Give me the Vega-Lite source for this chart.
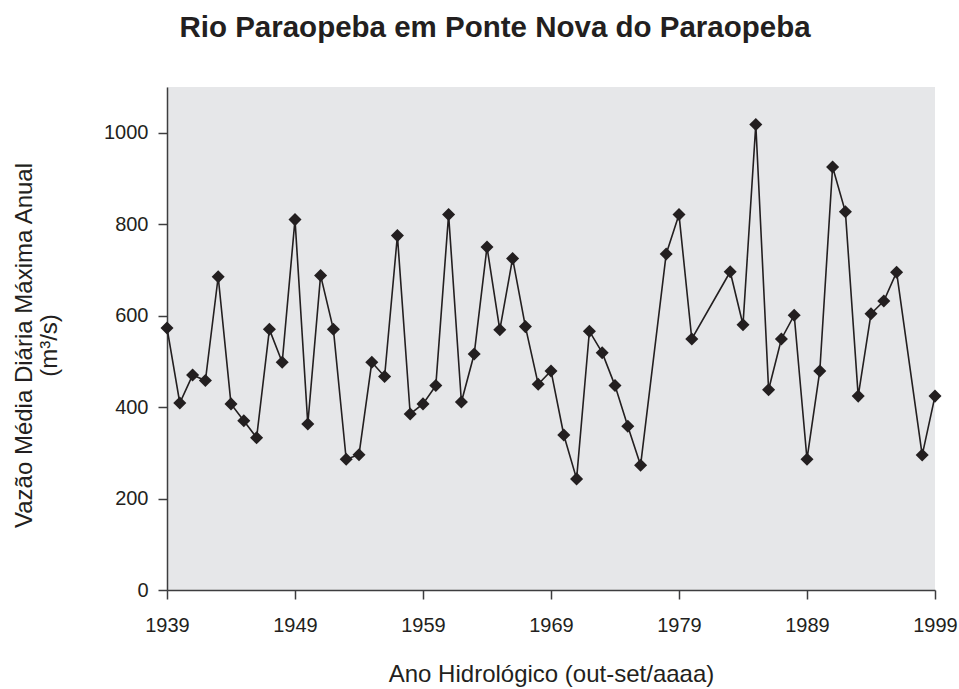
{
  "$schema": "https://vega.github.io/schema/vega-lite/v6.json",
  "width": 768,
  "height": 503,
  "autosize": {"type": "none"},
  "padding": {"left": 167, "top": 87, "right": 24, "bottom": 99},
  "background": "#ffffff",
  "config": {
    "font": "Liberation Sans",
    "view": {"fill": "#e6e7e9", "stroke": null},
    "axis": {
      "domainColor": "#3d3d3f",
      "domainWidth": 1.5,
      "tickColor": "#3d3d3f",
      "tickWidth": 1.5,
      "tickSize": 9,
      "labelFont": "Liberation Sans",
      "labelFontSize": 20,
      "labelColor": "#231f20",
      "labelFlush": false,
      "titleFont": "Liberation Sans",
      "titleFontSize": 24,
      "titleFontWeight": "normal",
      "titleColor": "#231f20",
      "grid": false
    }
  },
  "title": {
    "text": "Rio Paraopeba em Ponte Nova do Paraopeba",
    "font": "Liberation Sans",
    "fontSize": 29.5,
    "fontWeight": "bold",
    "color": "#231f20",
    "anchor": "middle",
    "dx": -56,
    "baseline": "bottom",
    "offset": 15
  },
  "data": {
    "values": [
      {"ano": 1939, "vazao": 573},
      {"ano": 1940, "vazao": 409},
      {"ano": 1941, "vazao": 470},
      {"ano": 1942, "vazao": 458},
      {"ano": 1943, "vazao": 685},
      {"ano": 1944, "vazao": 407},
      {"ano": 1945, "vazao": 370},
      {"ano": 1946, "vazao": 333},
      {"ano": 1947, "vazao": 570},
      {"ano": 1948, "vazao": 498},
      {"ano": 1949, "vazao": 810},
      {"ano": 1950, "vazao": 363},
      {"ano": 1951, "vazao": 688},
      {"ano": 1952, "vazao": 570},
      {"ano": 1953, "vazao": 286},
      {"ano": 1954, "vazao": 296},
      {"ano": 1955, "vazao": 498},
      {"ano": 1956, "vazao": 467},
      {"ano": 1957, "vazao": 775},
      {"ano": 1958, "vazao": 385},
      {"ano": 1959, "vazao": 407},
      {"ano": 1960, "vazao": 447},
      {"ano": 1961, "vazao": 821},
      {"ano": 1962, "vazao": 411},
      {"ano": 1963, "vazao": 516},
      {"ano": 1964, "vazao": 750},
      {"ano": 1965, "vazao": 569},
      {"ano": 1966, "vazao": 725},
      {"ano": 1967, "vazao": 576},
      {"ano": 1968, "vazao": 450},
      {"ano": 1969, "vazao": 479},
      {"ano": 1970, "vazao": 339},
      {"ano": 1971, "vazao": 243},
      {"ano": 1972, "vazao": 566},
      {"ano": 1973, "vazao": 519},
      {"ano": 1974, "vazao": 447},
      {"ano": 1975, "vazao": 358},
      {"ano": 1976, "vazao": 273},
      {"ano": 1978, "vazao": 735},
      {"ano": 1979, "vazao": 821},
      {"ano": 1980, "vazao": 549},
      {"ano": 1983, "vazao": 696},
      {"ano": 1984, "vazao": 580},
      {"ano": 1985, "vazao": 1018},
      {"ano": 1986, "vazao": 438},
      {"ano": 1987, "vazao": 549},
      {"ano": 1988, "vazao": 601},
      {"ano": 1989, "vazao": 286},
      {"ano": 1990, "vazao": 479},
      {"ano": 1991, "vazao": 925},
      {"ano": 1992, "vazao": 827},
      {"ano": 1993, "vazao": 424},
      {"ano": 1994, "vazao": 604},
      {"ano": 1995, "vazao": 632},
      {"ano": 1996, "vazao": 695},
      {"ano": 1998, "vazao": 295},
      {"ano": 1999, "vazao": 424}
    ]
  },
  "encoding": {
    "x": {
      "field": "ano",
      "type": "quantitative",
      "scale": {"domain": [1939, 1999], "nice": false, "zero": false},
      "axis": {
        "values": [1939, 1949, 1959, 1969, 1979, 1989, 1999],
        "format": "d",
        "labelPadding": 16,
        "title": "Ano Hidrológico (out-set/aaaa)",
        "titlePadding": 27
      }
    },
    "y": {
      "field": "vazao",
      "type": "quantitative",
      "scale": {"domain": [0, 1100], "nice": false},
      "axis": {
        "values": [0, 200, 400, 600, 800, 1000],
        "format": "d",
        "labelPadding": 10,
        "title": ["Vazão Média Diária Máxima Anual", "(m³/s)"],
        "titleLineHeight": 25,
        "titleAngle": -90,
        "titleAlign": "center",
        "titleBaseline": "top",
        "titleX": -155,
        "titleY": 258
      }
    }
  },
  "layer": [
    {"mark": {"type": "line", "color": "#231f20", "strokeWidth": 1.6}},
    {"mark": {"type": "point", "shape": "diamond", "filled": true, "color": "#231f20", "size": 170, "opacity": 1}}
  ]
}
